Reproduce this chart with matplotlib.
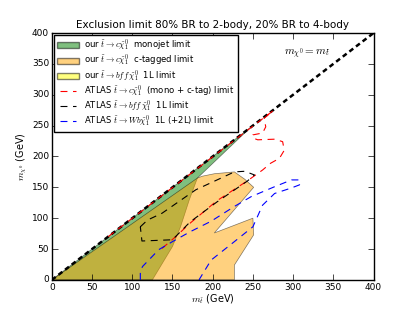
import numpy as np
import matplotlib
matplotlib.use('Agg')
import matplotlib.pyplot as plt
from matplotlib.patches import Patch
from matplotlib.lines import Line2D

plt.style.use('classic')
plt.rcParams['mathtext.fontset'] = 'cm'
plt.rcParams['font.size'] = 7

# our monojet excluded region (stop mass, neutralino mass) in GeV
mono_x = [0, 250, 247, 185, 181, 171, 160, 150, 125]
mono_y = [0, 250, 247, 170, 165, 130, 86, 54, 0]

# our c-tagged excluded region
ctag_x = [0, 181, 187, 202, 227, 240, 251, 202, 250, 251, 227, 227]
ctag_y = [0, 165, 168, 172, 175, 163, 150, 76, 100, 73, 24, 0]

# ATLAS c chi (mono + c-tag)
atl_c_x = [137, 154, 172, 205, 239, 248, 262, 272, 283, 289, 287, 277, 256, 250, 250, 262, 266, 264, 275, 70]
atl_c_y = [51, 70, 92, 128, 157, 165, 178, 189, 197, 210, 224, 228, 227, 230, 235, 238, 248, 262, 274, 70]

# ATLAS bff 1L
atl_b_x = [110, 119, 137, 179, 227, 240, 252, 243, 205, 172, 150, 112, 110]
atl_b_y = [86, 97, 108, 146, 175, 176, 170, 160, 126, 94, 65, 63, 86]

# ATLAS Wb 1L (+2L)
atl_w_x = [110, 110, 113, 133, 150, 172, 198, 227, 248, 277, 298, 308, 308, 298, 277, 262, 250, 227, 198, 183]
atl_w_y = [0, 15, 22, 49, 62, 78, 95, 119, 135, 151, 162, 162, 154, 149, 140, 121, 86, 62, 32, 0]

diag = [0, 400]

fig = plt.figure(figsize=(4.15, 3.12), dpi=100)
ax = fig.add_subplot(111)
fig.subplots_adjust(left=0.125, right=0.9, bottom=0.103, top=0.894)

ax.fill(mono_x, mono_y, color='green', alpha=0.5, edgecolor='k', lw=0.5)
ax.fill(ctag_x, ctag_y, color='orange', alpha=0.5, edgecolor='k', lw=0.5)

ax.plot(diag, diag, 'k--', lw=1.8, dashes=(3.5, 2.5))
ax.plot(atl_c_x, atl_c_y, 'r--', lw=0.8, dashes=(5, 4))
ax.plot(atl_b_x, atl_b_y, 'k--', lw=0.8, dashes=(5, 4))
ax.plot(atl_w_x, atl_w_y, 'b--', lw=0.8, dashes=(5, 4))

ax.text(289, 364, r'$m_{\chi^0}=m_{\tilde{t}}$', fontsize=8)

handles = [
    Patch(facecolor='green', alpha=0.5, edgecolor='k'),
    Patch(facecolor='orange', alpha=0.5, edgecolor='k'),
    Patch(facecolor='yellow', alpha=0.5, edgecolor='k'),
    Line2D([], [], color='r', ls='--', lw=0.8, dashes=(5, 4)),
    Line2D([], [], color='k', ls='--', lw=0.8, dashes=(5, 4)),
    Line2D([], [], color='b', ls='--', lw=0.8, dashes=(5, 4)),
]
labels = [
    r'our $\tilde{t}\rightarrow c\tilde{\chi}_1^0$  monojet limit',
    r'our $\tilde{t}\rightarrow c\tilde{\chi}_1^0$  c-tagged limit',
    r'our $\tilde{t}\rightarrow bff\,\tilde{\chi}_1^0$  1L limit',
    r'ATLAS $\tilde{t}\rightarrow c\tilde{\chi}_1^0$  (mono + c-tag) limit',
    r'ATLAS $\tilde{t}\rightarrow bff\,\tilde{\chi}_1^0$  1L limit',
    r'ATLAS $\tilde{t}\rightarrow Wb\tilde{\chi}_1^0$  1L (+2L) limit',
]
ax.legend(handles, labels, loc='upper left', fontsize=6.1, handlelength=2.6,
          labelspacing=0.0, borderpad=0.35, borderaxespad=0.25, handletextpad=0.6)

ax.set_xlim(0, 400)
ax.set_ylim(0, 400)
ax.set_xticks(np.arange(0, 401, 50))
ax.set_yticks(np.arange(0, 401, 50))
ax.tick_params(labelsize=6.5, pad=2)
ax.set_xlabel(r'$m_{\tilde{t}}$ (GeV)', fontsize=7, labelpad=1)
ax.set_ylabel(r'$m_{\chi^0}$ (GeV)', fontsize=7, labelpad=2)
ax.set_title('Exclusion limit 80% BR to 2-body, 20% BR to 4-body', fontsize=7.5, pad=4)

fig.savefig('out.png', dpi=100, facecolor='white')
